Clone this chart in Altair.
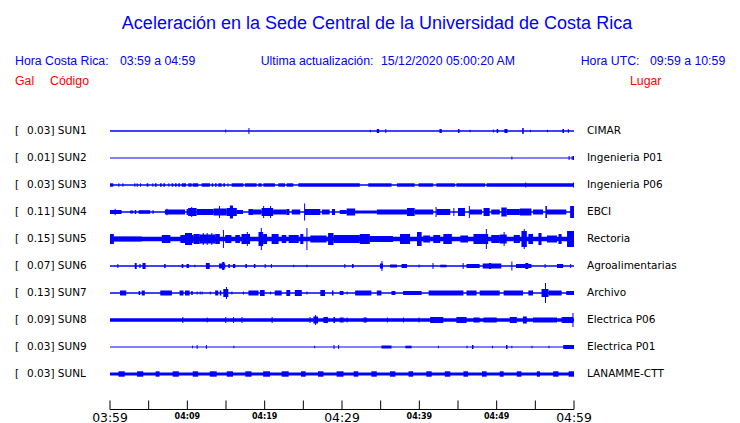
import altair as alt
import pandas as pd

# ---------------- data ----------------
codes = ["SUN1", "SUN2", "SUN3", "SUN4", "SUN5", "SUN6", "SUN7", "SUN8", "SUN9", "SUNL"]
gals = [0.03, 0.01, 0.03, 0.11, 0.15, 0.07, 0.13, 0.09, 0.03, 0.03]
places = ["CIMAR", "Ingenieria P01", "Ingenieria P06", "EBCI", "Rectoria",
          "Agroalimentarias", "Archivo", "Electrica P06", "Electrica P01", "LANAMME-CTT"]

# background (noise) half-thickness of each trace, and bursts (start min, end min, half amplitude)
base_amp = [0.7, 0.6, 0.7, 0.8, 2.2, 0.7, 0.7, 1.7, 0.6, 1.5]

ev_sun1 = [(14.9, 14.9, 1.5), (17.9, 17.9, 3.0), (33.6, 33.6, 1.3), (34.5, 34.8, 2.0), (35.6, 35.6, 2.0),
           (42.6, 42.9, 2.0), (45.0, 45.2, 2.0), (46.5, 46.5, 1.3), (49.5, 49.5, 1.5), (50.0, 50.2, 2.0),
           (51.0, 51.4, 2.0), (53.3, 53.5, 3.0), (54.3, 54.3, 1.3), (56.5, 56.5, 1.3), (58.5, 58.7, 2.0),
           (59.2, 59.2, 2.0)]
ev_sun2 = [(51.9, 51.9, 1.5), (59.3, 59.3, 2.0), (59.7, 59.7, 2.0), (60.0, 60.0, 2.0)]
ev_sun3 = [(0.0, 0.43, 1.7), (1.08, 1.08, 1.7), (1.6, 1.6, 1.7), (3.15, 3.15, 1.7), (3.45, 3.45, 1.7),
           (3.88, 3.88, 1.7), (4.74, 4.96, 1.7), (5.47, 5.47, 1.7), (5.82, 6.03, 1.7), (6.47, 6.68, 1.7),
           (6.9, 7.1, 1.7), (7.54, 7.54, 1.7), (7.97, 8.19, 1.7), (8.4, 8.62, 1.7), (8.84, 9.05, 1.7),
           (9.27, 9.83, 1.7), (10.13, 10.56, 1.7), (10.69, 11.42, 1.7), (11.85, 12.93, 1.7),
           (13.15, 13.36, 1.7), (13.58, 13.79, 1.7), (14.0, 14.44, 1.7), (14.65, 14.87, 1.7),
           (15.2, 15.2, 1.7), (15.73, 17.24, 1.7), (17.46, 18.96, 1.7), (19.18, 19.61, 1.7),
           (19.83, 21.33, 1.7), (21.77, 22.63, 1.7), (22.84, 23.7, 1.7), (24.35, 32.3, 1.7),
           (33.4, 36.4, 1.7), (37.1, 39.4, 1.7), (39.9, 41.8, 1.7), (42.2, 44.6, 1.7), (44.8, 48.5, 1.7),
           (48.7, 60.0, 1.7), (53.7, 53.7, 2.5), (60.0, 60.0, 2.5)]
ev_sun4 = [(0.0, 1.5, 2.0), (0.6, 0.6, 3.3), (2.6, 3.0, 1.5), (3.2, 3.4, 2.0), (3.7, 5.2, 1.8), (5.5, 5.5, 2.0),
           (7.1, 9.7, 2.5), (7.3, 7.3, 3.3), (9.9, 10.1, 3.0), (10.1, 11.2, 4.0), (10.5, 10.5, 5.0),
           (11.2, 13.4, 3.0), (13.4, 15.1, 3.5), (14.1, 14.1, 6.0), (15.1, 16.4, 4.0), (15.5, 15.9, 6.5),
           (16.4, 17.2, 2.0), (17.9, 18.5, 3.0), (18.5, 19.6, 2.5), (19.6, 21.1, 4.0), (19.8, 19.8, 6.0),
           (20.7, 20.7, 6.0), (21.1, 22.8, 2.5), (22.8, 23.2, 3.0), (23.5, 24.6, 2.5), (25.1, 25.1, 8.5),
           (25.2, 27.2, 3.0), (27.4, 28.4, 2.5), (28.7, 29.1, 3.0), (29.7, 30.6, 2.0), (30.6, 31.7, 3.5),
           (31.7, 34.5, 1.5), (34.5, 38.4, 2.5), (38.4, 39.4, 4.0), (39.4, 41.8, 2.5), (42.1, 42.1, 5.0),
           (42.2, 44.0, 3.0), (44.4, 44.4, 4.0), (45.0, 45.9, 4.0), (46.4, 46.4, 6.0), (46.5, 48.1, 2.5),
           (48.3, 49.1, 4.0), (49.3, 50.4, 2.5), (50.6, 51.3, 4.5), (51.3, 53.0, 3.0), (53.0, 54.5, 3.5),
           (54.7, 56.0, 2.5), (56.3, 56.5, 6.0), (56.5, 59.0, 2.5), (59.5, 60.0, 6.0)]
ev_sun5 = [(0.0, 0.5, 5.0), (0.5, 4.1, 2.5), (6.7, 7.8, 4.0), (9.1, 10.8, 4.0), (9.7, 10.6, 6.0),
           (10.8, 11.6, 5.0), (11.6, 13.6, 4.5), (12.0, 12.0, 6.0), (12.5, 12.5, 6.0), (13.1, 13.1, 6.0),
           (13.6, 14.2, 5.0), (14.6, 14.6, 9.0), (14.9, 15.7, 4.0), (16.2, 16.8, 4.0), (17.0, 18.1, 5.0),
           (17.7, 17.7, 7.0), (19.2, 19.8, 7.0), (19.5, 19.5, 11.0), (19.8, 20.3, 5.0), (20.9, 21.8, 5.0),
           (22.2, 22.8, 4.0), (23.1, 24.4, 4.0), (24.6, 25.0, 5.0), (25.4, 25.4, 11.0), (25.9, 28.0, 3.5),
           (28.2, 28.9, 6.0), (28.9, 32.3, 4.0), (32.3, 33.6, 5.0), (33.6, 36.6, 3.0), (37.5, 38.8, 5.0),
           (39.7, 40.3, 7.0), (40.5, 41.4, 3.5), (41.8, 42.7, 4.0), (43.1, 44.2, 5.0), (45.3, 46.3, 3.5),
           (47.0, 48.9, 5.0), (48.6, 48.6, 10.0), (49.3, 50.4, 4.0), (50.4, 51.3, 4.5), (50.9, 50.9, 7.0),
           (52.2, 53.0, 4.0), (53.2, 53.9, 8.0), (53.5, 53.5, 10.0), (54.1, 54.7, 5.0), (55.4, 55.8, 6.0),
           (56.5, 57.8, 3.5), (58.0, 58.4, 5.0), (59.1, 60.0, 8.0)]
ev_sun6 = [(0.95, 1.08, 2.0), (3.2, 3.45, 3.0), (3.8, 3.96, 2.0), (4.2, 4.6, 3.0), (7.0, 7.2, 2.0),
           (9.27, 9.48, 2.0), (9.9, 10.2, 2.0), (10.9, 10.9, 1.3), (12.4, 12.9, 3.0), (14.1, 14.9, 2.5),
           (14.5, 14.8, 4.0), (15.3, 15.5, 2.0), (15.9, 16.2, 2.0), (17.5, 17.7, 2.0), (18.6, 18.8, 2.0),
           (20.0, 20.0, 2.0), (20.8, 20.8, 2.0), (23.7, 23.7, 1.3), (25.4, 25.4, 1.3), (30.3, 30.3, 2.0),
           (31.3, 31.5, 2.0), (34.9, 35.3, 2.5), (35.1, 35.1, 5.0), (36.2, 37.1, 1.5), (37.7, 38.4, 2.0),
           (39.9, 39.9, 1.5), (41.7, 41.7, 3.0), (42.7, 43.5, 1.3), (45.6, 45.6, 3.0), (46.1, 47.8, 2.0),
           (48.2, 50.6, 2.5), (49.0, 49.3, 3.0), (51.9, 51.9, 4.5), (52.5, 54.5, 2.0), (53.7, 54.1, 3.0),
           (56.2, 56.2, 2.0), (57.8, 58.6, 2.0), (59.5, 59.5, 2.0)]
ev_sun7 = [(1.3, 2.1, 2.5), (3.7, 3.9, 2.0), (4.1, 4.5, 2.5), (6.5, 8.0, 2.5), (9.0, 9.5, 2.5), (9.7, 10.3, 2.5),
           (10.5, 10.7, 2.0), (11.2, 11.2, 1.5), (11.6, 11.6, 1.5), (11.85, 11.85, 1.5), (12.9, 12.9, 1.5),
           (13.6, 14.0, 2.5), (14.2, 14.4, 2.5), (14.65, 15.3, 4.0), (15.0, 15.0, 6.0), (15.7, 15.7, 1.5),
           (17.2, 17.2, 1.5), (17.9, 19.2, 2.5), (19.4, 20.0, 3.0), (20.7, 20.7, 1.5), (21.3, 22.2, 2.5),
           (22.8, 23.3, 3.0), (23.9, 24.8, 3.0), (25.4, 25.4, 1.5), (27.2, 27.8, 3.0), (28.7, 28.9, 2.5),
           (29.7, 30.2, 2.0), (30.6, 30.6, 1.5), (31.7, 33.8, 2.5), (34.5, 35.1, 2.5), (36.4, 36.9, 2.0),
           (37.9, 40.3, 2.0), (41.2, 45.7, 2.5), (46.1, 47.4, 2.5), (47.8, 50.4, 2.5), (50.9, 53.4, 2.5),
           (54.1, 54.7, 2.5), (55.8, 56.7, 4.0), (56.25, 56.25, 10.0), (56.7, 58.4, 2.5), (59.0, 60.0, 2.0)]
ev_sun8 = [(9.35, 9.35, 3.0), (12.5, 12.5, 2.5), (14.9, 14.9, 3.0), (15.9, 15.9, 3.0), (17.0, 17.0, 3.0),
           (20.9, 20.9, 3.0), (25.8, 25.8, 3.0), (26.3, 26.9, 3.5), (26.5, 26.5, 5.0), (27.6, 28.2, 3.0),
           (28.9, 29.1, 3.0), (29.7, 30.2, 2.5), (30.6, 30.6, 2.5), (32.8, 33.2, 2.5), (35.8, 35.8, 2.5),
           (37.9, 37.9, 2.5), (39.9, 39.9, 2.5), (41.4, 43.1, 3.0), (44.8, 46.1, 3.0), (47.0, 47.8, 2.5),
           (48.3, 50.0, 2.5), (51.7, 52.6, 3.0), (53.4, 53.9, 3.5), (54.7, 57.8, 2.5), (58.4, 59.9, 3.0),
           (59.8, 59.8, 7.0)]
ev_sun9 = [(10.6, 10.6, 1.3), (11.2, 11.2, 2.0), (12.4, 12.4, 2.0), (15.95, 15.95, 1.3), (26.4, 26.4, 1.3),
           (28.9, 28.9, 2.0), (29.5, 29.5, 2.0), (35.1, 36.4, 1.5), (38.2, 39.0, 1.3), (42.4, 42.4, 1.3),
           (46.1, 46.1, 1.3), (46.8, 47.0, 2.0), (49.4, 49.4, 1.3), (51.2, 51.4, 2.0), (51.9, 51.9, 1.3),
           (54.5, 54.5, 1.3), (56.7, 56.7, 1.3), (58.6, 60.0, 2.0)]
ev_sunl = [(1.1, 1.9, 2.7), (3.5, 4.3, 2.7), (5.9, 6.4, 2.7), (8.1, 8.9, 2.7), (10.7, 11.4, 2.7),
           (12.9, 13.8, 2.7), (15.1, 15.9, 2.7), (17.5, 18.3, 2.7), (19.8, 20.7, 2.7), (22.2, 23.1, 2.7),
           (24.7, 25.3, 2.7), (26.9, 27.6, 2.7), (29.3, 30.2, 2.7), (31.5, 32.1, 2.7), (33.8, 34.5, 2.7),
           (36.2, 36.9, 2.7), (38.6, 39.2, 2.7), (40.9, 41.6, 2.7), (43.3, 44.0, 2.7), (45.7, 46.3, 2.7),
           (48.1, 48.7, 2.7), (50.4, 50.9, 2.7), (52.6, 53.2, 2.7), (55.2, 55.6, 2.7), (57.3, 58.0, 2.7),
           (59.3, 60.0, 2.7)]
events = [ev_sun1, ev_sun2, ev_sun3, ev_sun4, ev_sun5, ev_sun6, ev_sun7, ev_sun8, ev_sun9, ev_sunl]

tick_minutes = list(range(0, 61, 5))
label_minutes = [0, 10, 20, 30, 40, 50, 60]
label_texts = ["03:59", "04:09", "04:19", "04:29", "04:39", "04:49", "04:59"]
major_texts = ["03:59", "04:29", "04:59"]

title_text = "Aceleración en la Sede Central de la Universidad de Costa Rica"
hdr_cr = ["Hora Costa Rica:", "03:59 a 04:59"]
hdr_upd = ["Ultima actualización:", "15/12/2020 05:00:20 AM"]
hdr_utc = ["Hora UTC:", "09:59 a 10:59"]
col_heads = ["Gal", "Código", "Lugar"]

# ---------------- build tables ----------------
ROW = 27
MINW = 0.13
rows = []
for i, (b, evs) in enumerate(zip(base_amp, events)):
    c = ROW * i + ROW / 2
    rows.append(dict(st=codes[i], t0=0.0, t1=60.0, lo=c - b, hi=c + b))
    for t0, t1, a in evs:
        if t1 - t0 < MINW:
            t0 = min(t0, 60 - MINW)
            t1 = t0 + MINW
        rows.append(dict(st=codes[i], t0=t0, t1=t1, lo=c - a, hi=c + a))
traces = pd.DataFrame(rows)

lab = pd.DataFrame({
    "c": [ROW * i + ROW / 2 for i in range(len(codes))],
    "left": [f"{g:.2f}] {cd}" for g, cd in zip(gals, codes)],
    "br": ["["] * len(codes),
    "place": places,
})

xs = alt.Scale(domain=[0, 60], nice=False, zero=False)
ys = alt.Scale(domain=[0, 270], nice=False, zero=False, reverse=True)
BLUE = "#0000ff"
RED = "#ff0000"

trace_layer = alt.Chart(traces).mark_rect(color=BLUE).encode(
    x=alt.X("t0:Q", scale=xs, axis=None), x2="t1:Q",
    y=alt.Y("lo:Q", scale=ys, axis=None), y2="hi:Q")

lab_font = dict(font="DejaVu Sans", fontSize=10.5, color="black", baseline="middle", align="left")
br_layer = alt.Chart(lab).mark_text(**lab_font).encode(
    text="br:N", x=alt.value(-95), y=alt.Y("c:Q", scale=ys, axis=None))
left_layer = alt.Chart(lab).mark_text(**lab_font).encode(
    text="left:N", x=alt.value(-83), y=alt.Y("c:Q", scale=ys, axis=None))
right_layer = alt.Chart(lab).mark_text(**lab_font).encode(
    text="place:N", x=alt.value(477), y=alt.Y("c:Q", scale=ys, axis=None))

# time axis (ticks point up from the baseline)
base_df = pd.DataFrame({"t0": [0], "t1": [60]})
axis_line = alt.Chart(base_df).mark_rule(color="black", strokeWidth=1).encode(
    x=alt.X("t0:Q", scale=xs, axis=None), x2="t1:Q", y=alt.value(292))
ticks = alt.Chart(pd.DataFrame({"t": tick_minutes})).mark_rule(color="black", strokeWidth=1).encode(
    x=alt.X("t:Q", scale=xs, axis=None), y=alt.value(283), y2=alt.value(292))
tl = pd.DataFrame({"t": label_minutes, "s": label_texts})
tl["major"] = tl["s"].isin(major_texts)
major_lab = alt.Chart(tl[tl["major"]]).mark_text(
    font="DejaVu Sans", fontSize=12.4, color="black", baseline="alphabetic", align="center").encode(
    text="s:N", x=alt.X("t:Q", scale=xs, axis=None), y=alt.value(304))
minor_lab = alt.Chart(tl[~tl["major"]]).mark_text(
    font="DejaVu Sans", fontSize=8, fontWeight="bold", color="black", baseline="alphabetic",
    align="center").encode(
    text="s:N", x=alt.X("t:Q", scale=xs, axis=None), y=alt.value(301.8))


def txt(s, x, y, size, color, align="left"):
    return alt.Chart(pd.DataFrame({"s": [s]})).mark_text(
        font="Liberation Sans", fontSize=size, color=color, align=align, baseline="alphabetic").encode(
        text="s:N", x=alt.value(x), y=alt.value(y))


HF = 12.3
headers = [
    txt(title_text, 267, -88.5, 18, BLUE, "center"),
    txt(hdr_cr[0], -95, -52.5, HF, BLUE), txt(hdr_cr[1], 10, -52.5, HF, BLUE),
    txt(hdr_upd[0], 150.7, -52.5, HF, BLUE), txt(hdr_upd[1], 271, -52.5, HF, BLUE),
    txt(hdr_utc[0], 470.7, -52.5, HF, BLUE), txt(hdr_utc[1], 540, -52.5, HF, BLUE),
    txt(col_heads[0], -95, -32.5, HF, RED), txt(col_heads[1], -60, -32.5, HF, RED),
    txt(col_heads[2], 520, -32.5, HF, RED),
]

chart = alt.layer(
    trace_layer, br_layer, left_layer, right_layer,
    axis_line, ticks, major_lab, minor_lab, *headers
).properties(
    width=464, height=270,
    padding={"left": 102, "top": 109.5, "right": 154, "bottom": 34.5},
    autosize=alt.AutoSizeParams(type="none"),
    background="white",
).configure_view(stroke=None)

chart.save("out.html", embed_options={"renderer": "svg", "actions": False})
